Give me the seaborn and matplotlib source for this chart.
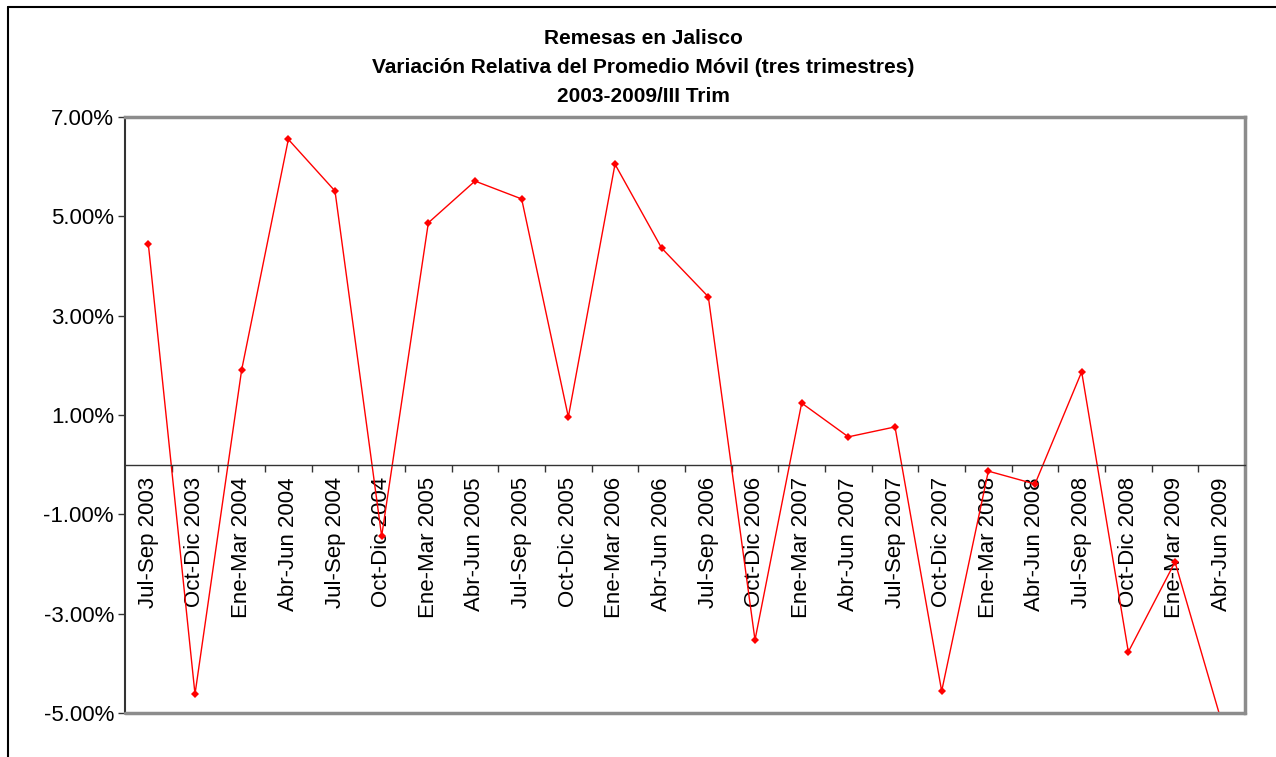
import numpy as np
import pandas as pd
import matplotlib
matplotlib.use("Agg")
import matplotlib.pyplot as plt
import seaborn as sns
from matplotlib.lines import Line2D
from matplotlib.ticker import FixedLocator, FuncFormatter

periodos = [
    "Jul-Sep 2003", "Oct-Dic 2003", "Ene-Mar 2004", "Abr-Jun 2004",
    "Jul-Sep 2004", "Oct-Dic 2004", "Ene-Mar 2005", "Abr-Jun 2005",
    "Jul-Sep 2005", "Oct-Dic 2005", "Ene-Mar 2006", "Abr-Jun 2006",
    "Jul-Sep 2006", "Oct-Dic 2006", "Ene-Mar 2007", "Abr-Jun 2007",
    "Jul-Sep 2007", "Oct-Dic 2007", "Ene-Mar 2008", "Abr-Jun 2008",
    "Jul-Sep 2008", "Oct-Dic 2008", "Ene-Mar 2009", "Abr-Jun 2009",
]
variacion = [
    4.44, -4.62, 1.91, 6.55, 5.51, -1.44, 4.87, 5.71, 5.35, 0.96,
    6.05, 4.36, 3.38, -3.53, 1.24, 0.56, 0.76, -4.56, -0.13, -0.39,
    1.87, -3.77, -1.96, -5.18,
]
yticks = [7, 5, 3, 1, -1, -3, -5]

titulo = ("Remesas en Jalisco\n"
          "Variación Relativa del Promedio Móvil (tres trimestres)\n"
          "2003-2009/III Trim")

df = pd.DataFrame({"periodo": periodos, "valor": variacion})
df["pos"] = np.arange(len(df))

sns.set_style("white")
plt.rcParams["font.family"] = ["Liberation Sans", "DejaVu Sans"]
plt.rcParams["text.color"] = "black"
plt.rcParams["xtick.color"] = "black"
plt.rcParams["ytick.color"] = "black"

fig = plt.figure(figsize=(12.76, 7.57), dpi=100)
ax = fig.add_axes([125 / 1276, 1 - 713 / 757, 1120 / 1276, 596 / 757])

sns.lineplot(data=df, x="pos", y="valor", ax=ax, color="#FF0000",
             linewidth=1, marker="D", markersize=4.5, markeredgewidth=0,
             sort=False)

ax.set_xlim(-0.5, len(df) - 0.5)
ax.set_ylim(-5, 7)
ax.set_xlabel("")
ax.set_ylabel("")

# y axis
ax.set_yticks(yticks)
ax.yaxis.set_major_formatter(FuncFormatter(lambda v, p: f"{v:.2f}%"))
ax.tick_params(axis="y", direction="out", length=5, width=1, color="#333333",
               labelsize=16, pad=3, left=True)

# x axis along zero line
ax.spines["bottom"].set_position(("data", 0))
ax.spines["bottom"].set_color("#333333")
ax.spines["bottom"].set_linewidth(1)
ax.set_xticks(df["pos"])
ax.set_xticklabels(df["periodo"], rotation=90, va="top", ha="center")
ax.xaxis.set_minor_locator(FixedLocator(df["pos"][:-1] + 0.5))
ax.tick_params(axis="x", which="major", length=0, labelsize=16, pad=9)
ax.tick_params(axis="x", which="minor", direction="out", length=5, width=1,
               color="#333333", bottom=True)

# plot frame
ax.spines["left"].set_color("#333333")
ax.spines["left"].set_linewidth(1.5)
for s in ["top", "right"]:
    ax.spines[s].set_color("#8c8c8c")
    ax.spines[s].set_linewidth(2.5)
ax.plot([0, 1], [0, 0], transform=ax.transAxes, color="#8c8c8c",
        linewidth=2.5, clip_on=False, zorder=5)

fig.text(643 / 1276, 1 - 29 / 757, titulo, ha="center", va="top", fontsize=15,
         fontweight="bold", linespacing=1.68)

# outer chart border (left and top)
fig.add_artist(Line2D([8 / 1276, 8 / 1276], [0, 1 - 7 / 757],
                      transform=fig.transFigure, color="black", linewidth=1.5))
fig.add_artist(Line2D([8 / 1276, 1], [1 - 7 / 757, 1 - 7 / 757],
                      transform=fig.transFigure, color="black", linewidth=1.5))

fig.savefig("out.png", dpi=100, facecolor="white")
